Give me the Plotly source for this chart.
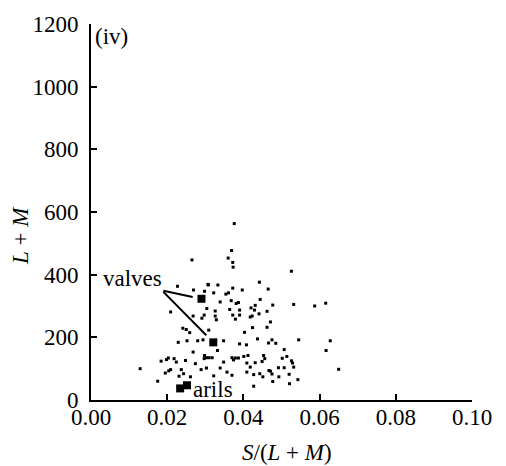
import plotly.graph_objects as go

# Cone-contrast scatter: S/(L+M) against L+M for background samples
sample_s_lm = [
    0.0376, 0.0369, 0.0360, 0.0372, 0.0373, 0.0265, 0.0526, 0.0442, 0.0465, 0.0227,
    0.0307, 0.0269, 0.0298, 0.0308, 0.0333, 0.0322, 0.0354, 0.0361, 0.0372, 0.0397,
    0.0339, 0.0368, 0.0381, 0.0387, 0.0444, 0.0304, 0.0326, 0.0364, 0.0390, 0.0420,
    0.0431, 0.0429, 0.0268, 0.0297, 0.0291, 0.0326, 0.0329, 0.0372, 0.0379, 0.0390,
    0.0418, 0.0423, 0.0441, 0.0241, 0.0250, 0.0259, 0.0424, 0.0477, 0.0532, 0.0587,
    0.0616, 0.0462, 0.0471, 0.0462, 0.0209, 0.0229, 0.0184, 0.0198, 0.0203, 0.0218,
    0.0224, 0.0129, 0.0195, 0.0204, 0.0209, 0.0237, 0.0231, 0.0175, 0.0243, 0.0309,
    0.0403, 0.0437, 0.0252, 0.0280, 0.0294, 0.0348, 0.0390, 0.0408, 0.0268, 0.0298,
    0.0303, 0.0297, 0.0310, 0.0318, 0.0248, 0.0370, 0.0374, 0.0379, 0.0387, 0.0401,
    0.0412, 0.0431, 0.0409, 0.0418, 0.0348, 0.0453, 0.0449, 0.0274, 0.0289, 0.0339,
    0.0322, 0.0357, 0.0370, 0.0409, 0.0427, 0.0443, 0.0451, 0.0303, 0.0261, 0.0427,
    0.0456, 0.0467, 0.0471, 0.0475, 0.0477, 0.0492, 0.0493, 0.0502, 0.0507, 0.0514,
    0.0521, 0.0526, 0.0529, 0.0532, 0.0543, 0.0520, 0.0507, 0.0466, 0.0475, 0.0485,
    0.0545, 0.0628, 0.0617, 0.0650, 0.0332,
]
sample_l_m = [
    563, 477, 453, 439, 424, 447, 411, 376, 354, 363,
    369, 351, 347, 367, 367, 342, 338, 342, 357, 351,
    313, 317, 308, 311, 321, 292, 284, 289, 287, 294,
    302, 287, 268, 271, 261, 268, 256, 271, 258, 271,
    265, 268, 275, 229, 225, 215, 231, 303, 305, 300,
    309, 283, 249, 232, 281, 184, 124, 129, 134, 132,
    121, 100, 86, 93, 97, 97, 76, 60, 84, 223,
    216, 195, 189, 189, 192, 189, 179, 176, 153, 142,
    135, 132, 135, 135, 126, 135, 128, 134, 134, 139,
    142, 119, 118, 105, 121, 142, 123, 116, 97, 102,
    77, 89, 79, 89, 81, 84, 74, 102, 74, 44,
    132, 94, 92, 83, 59, 103, 74, 133, 161, 139,
    52, 125, 118, 105, 65, 82, 103, 182, 192, 181,
    192, 189, 158, 98, 158,
]

# Fruit parts
valves_s_lm = [0.0290, 0.0321]
valves_l_m = [323, 184]
arils_s_lm = [0.0234, 0.0252]
arils_l_m = [37, 47]

x_ticks = [0.00, 0.02, 0.04, 0.06, 0.08, 0.10]
x_tick_labels = ["0.00", "0.02", "0.04", "0.06", "0.08", "0.10"]
y_ticks = [0, 200, 400, 600, 800, 1000, 1200]
y_tick_labels = ["0", "200", "400", "600", "800", "1000", "1200"]

FONT = "Liberation Serif, Times New Roman, serif"
FS = 23

fig = go.Figure()
fig.add_trace(go.Scatter(
    x=sample_s_lm, y=sample_l_m, mode="markers",
    marker=dict(symbol="square", size=3, color="black", line=dict(width=0)),
    showlegend=False, hoverinfo="skip",
))
fig.add_trace(go.Scatter(
    x=valves_s_lm + arils_s_lm, y=valves_l_m + arils_l_m, mode="markers",
    marker=dict(symbol="square", size=8, color="black", line=dict(width=0)),
    showlegend=False, hoverinfo="skip",
))

axis_common = dict(
    showline=True, linecolor="black", linewidth=2,
    ticks="inside", ticklen=6, tickwidth=2, tickcolor="black",
    showgrid=False, zeroline=False,
    tickfont=dict(family=FONT, size=FS, color="black"),
)
fig.update_xaxes(range=[0, 0.1], tickvals=x_ticks, ticktext=x_tick_labels,
                 ticklabelstandoff=-5, **axis_common)
fig.update_yaxes(range=[0, 1200], tickvals=y_ticks, ticktext=y_tick_labels,
                 ticklabelstandoff=6, **axis_common)

# pointer lines from the "valves" label to both valve samples
label_tail = (0.0186, 350)
annotations = []
for vx, vy, so in zip(valves_s_lm, valves_l_m, [9, 10]):
    annotations.append(dict(
        x=vx, y=vy, xref="x", yref="y", ax=label_tail[0], ay=label_tail[1],
        axref="x", ayref="y", text="", showarrow=True, arrowhead=0,
        arrowwidth=2, arrowcolor="black", standoff=so,
    ))
annotations += [
    dict(x=label_tail[0], y=label_tail[1], xref="x", yref="y", text="valves",
         showarrow=False, xanchor="right", yanchor="middle", yshift=12, xshift=2,
         font=dict(family=FONT, size=FS, color="black")),
    dict(x=0.0321, y=35, xref="x", yref="y", text="arils", showarrow=False,
         xanchor="center", yanchor="middle",
         font=dict(family=FONT, size=FS, color="black")),
    dict(x=0.053, y=0.966, xref="paper", yref="paper", text="(iv)", showarrow=False,
         xanchor="center", yanchor="middle",
         font=dict(family=FONT, size=FS, color="black")),
    dict(x=-0.1856, y=0.437, xref="paper", yref="paper", text="<i>L</i> + <i>M</i>",
         textangle=-90, showarrow=False, xanchor="center", yanchor="middle",
         font=dict(family=FONT, size=FS, color="black")),
    dict(x=0.514, y=-0.139, xref="paper", yref="paper",
         text="<i>S</i>/(<i>L</i> + <i>M</i>)", showarrow=False,
         xanchor="center", yanchor="middle",
         font=dict(family=FONT, size=FS, color="black")),
]

fig.update_layout(
    width=506, height=466,
    margin=dict(l=91, r=34, t=20, b=66),
    paper_bgcolor="white", plot_bgcolor="white",
    annotations=annotations,
    font=dict(family=FONT, size=FS, color="black"),
)

fig.write_html("out.html")
